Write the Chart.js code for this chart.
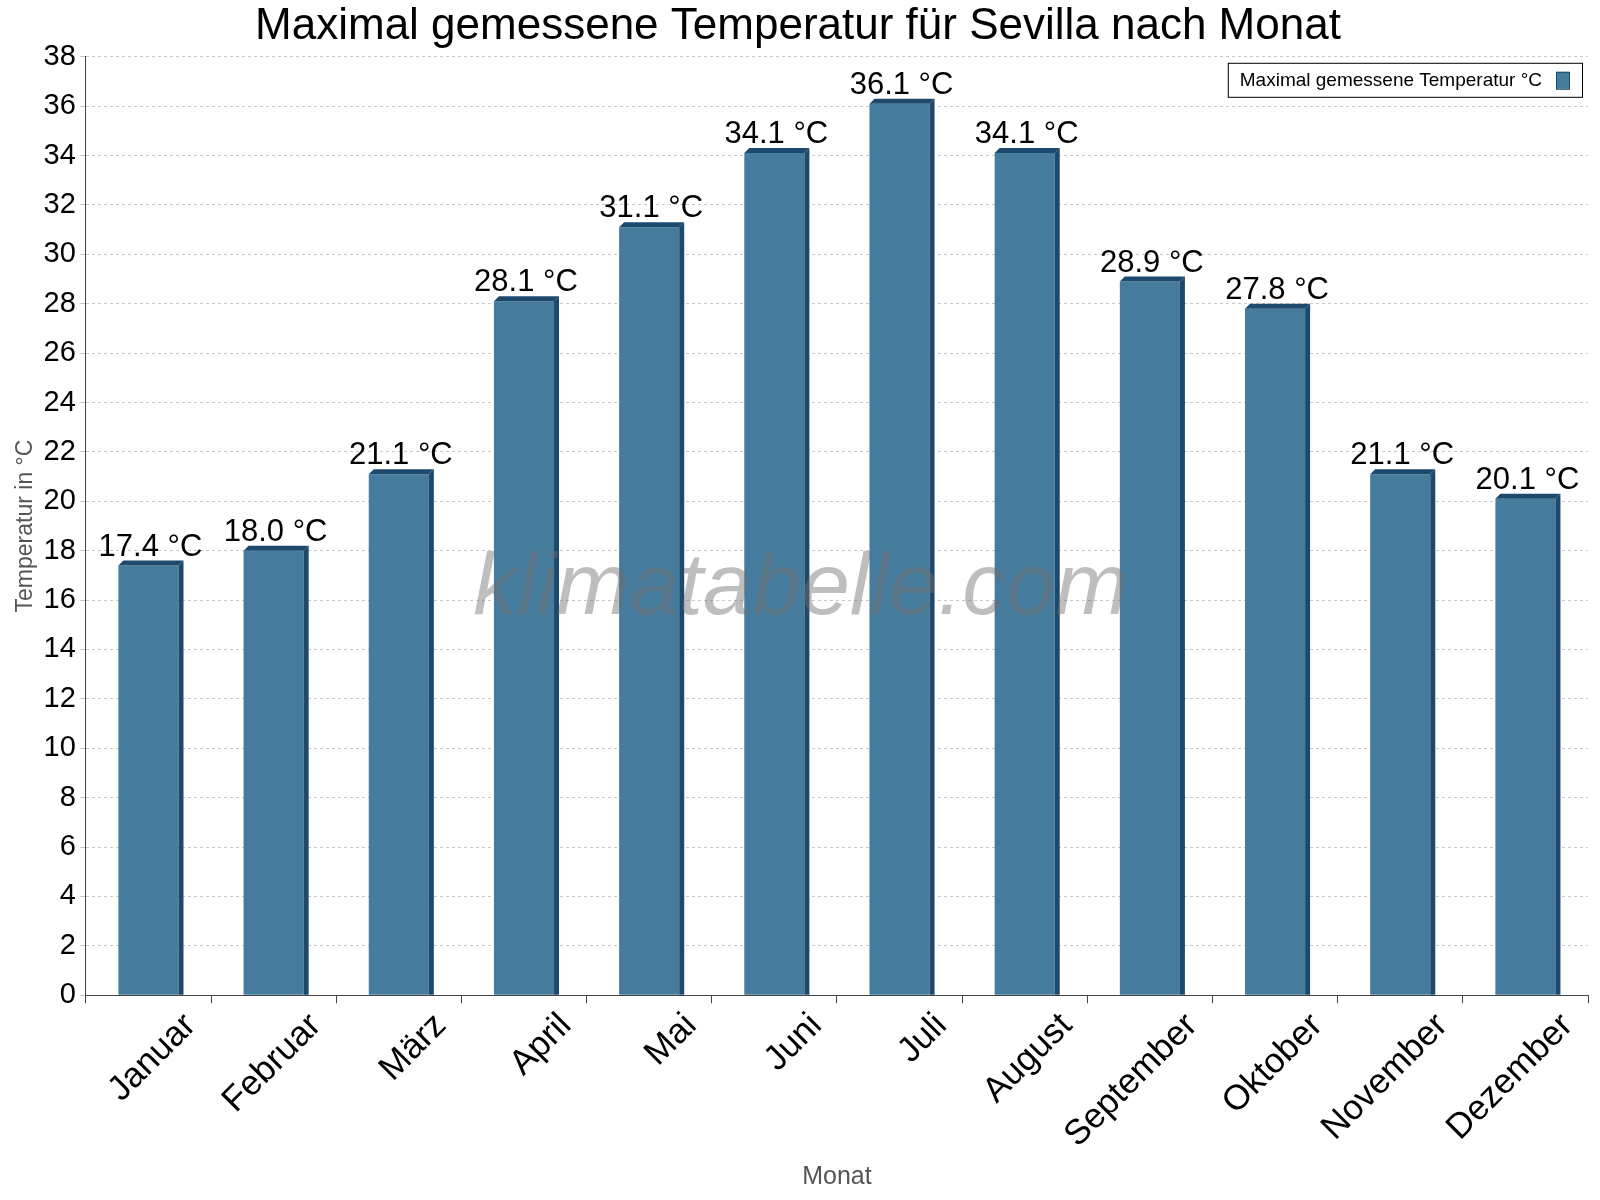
<!DOCTYPE html>
<html>
<head>
<meta charset="utf-8">
<script src="https://cdn.jsdelivr.net/npm/chart.js@4.4.0/dist/chart.umd.min.js"></script>
<style>
  body { margin: 0; background: #fff; }
  #wrap { width: 1600px; height: 1200px; }
</style>
</head>
<body>
<div id="wrap"><canvas id="tempChart"></canvas></div>
<script>
"use strict";

const months = ["Januar", "Februar", "März", "April", "Mai", "Juni", "Juli", "August", "September", "Oktober", "November", "Dezember"];
const maxTemps = [17.4, 18.0, 21.1, 28.1, 31.1, 34.1, 36.1, 34.1, 28.9, 27.8, 21.1, 20.1];
const seriesLabel = "Maximal gemessene Temperatur °C";
const font = "'Liberation Sans', Arial, sans-serif";

// Seitenflächen, Werte und Wasserzeichen
const extrasPlugin = {
    id: "extras",
    afterDatasetsDraw(chart) {
        const ctx = chart.ctx;
        const area = chart.chartArea;
        ctx.save();
        chart.getDatasetMeta(0).data.forEach((bar, i) => {
            const half = bar.width / 2;
            const d = 5;
            ctx.fillStyle = "#1d4a6c";
            ctx.beginPath();
            ctx.moveTo(bar.x + half, bar.base);
            ctx.lineTo(bar.x + half, bar.y);
            ctx.lineTo(bar.x + half + d, bar.y - d);
            ctx.lineTo(bar.x + half + d, bar.base);
            ctx.closePath();
            ctx.fill();
            ctx.beginPath();
            ctx.moveTo(bar.x - half, bar.y);
            ctx.lineTo(bar.x - half + d, bar.y - d);
            ctx.lineTo(bar.x + half + d, bar.y - d);
            ctx.lineTo(bar.x + half, bar.y);
            ctx.closePath();
            ctx.fill();
            ctx.fillStyle = "#000";
            ctx.font = "31px " + font;
            ctx.textAlign = "center";
            ctx.textBaseline = "bottom";
            ctx.fillText(maxTemps[i].toFixed(1) + " °C", bar.x + 2, bar.y - 3);
        });
        ctx.font = "italic 88px " + font;
        ctx.fillStyle = "rgba(110,110,110,0.45)";
        ctx.textAlign = "center";
        ctx.textBaseline = "middle";
        ctx.fillText("klimatabelle.com", (area.left + area.right) / 2 - 36, 590);

        // Legende
        ctx.font = "19px " + font;
        const tw = ctx.measureText(seriesLabel).width;
        const bw = tw + 52, bh = 34;
        const bx = area.right - 6 - bw, by = area.top + 6;
        ctx.fillStyle = "#fff";
        ctx.fillRect(bx, by, bw, bh);
        ctx.strokeStyle = "#000";
        ctx.lineWidth = 1;
        ctx.strokeRect(bx + 0.5, by + 0.5, bw, bh);
        ctx.fillStyle = "#000";
        ctx.textAlign = "left";
        ctx.fillText(seriesLabel, bx + 12, by + bh / 2 + 1);
        ctx.fillStyle = "#457b9d";
        ctx.fillRect(bx + bw - 26, by + 9, 13, 17);
        ctx.strokeStyle = "#1d4a6c";
        ctx.strokeRect(bx + bw - 26 + 0.5, by + 9.5, 13, 17);
        ctx.restore();
    }
};

new Chart(document.getElementById("tempChart"), {
    type: "bar",
    data: {
        labels: months,
        datasets: [{
            label: seriesLabel,
            data: maxTemps,
            backgroundColor: "#457b9d",
            barPercentage: 0.48,
            categoryPercentage: 1.0
        }]
    },
    options: {
        responsive: true,
        maintainAspectRatio: false,
        animation: false,
        layout: { padding: { top: 0, right: 12, left: 8, bottom: 4 } },
        plugins: {
            legend: { display: false },
            tooltip: { enabled: false },
            title: {
                display: true,
                text: "Maximal gemessene Temperatur für Sevilla nach Monat",
                color: "#000",
                font: { family: font, size: 44, weight: "normal" },
                padding: { top: 0, bottom: 4 }
            }
        },
        scales: {
            x: {
                grid: { display: true, drawOnChartArea: false, offset: true, tickLength: 8, color: "#444" },
                border: { color: "#444" },
                ticks: { color: "#000", font: { family: font, size: 35 }, maxRotation: 45, minRotation: 45, padding: 2, labelOffset: 42 },
                title: { display: true, text: "Monat", color: "#555", font: { family: font, size: 25 }, padding: { top: 4 } }
            },
            y: {
                min: 0,
                max: 38,
                ticks: { stepSize: 2, color: "#000", font: { family: font, size: 29 }, padding: 4 },
                grid: { color: "#c8c8c8", tickLength: 6 },
                border: { color: "#444", dash: [3, 3] },
                title: { display: true, text: "Temperatur in °C", color: "#555", font: { family: font, size: 23 }, padding: { bottom: 0 } }
            }
        }
    },
    plugins: [extrasPlugin]
});
</script>
</body>
</html>
